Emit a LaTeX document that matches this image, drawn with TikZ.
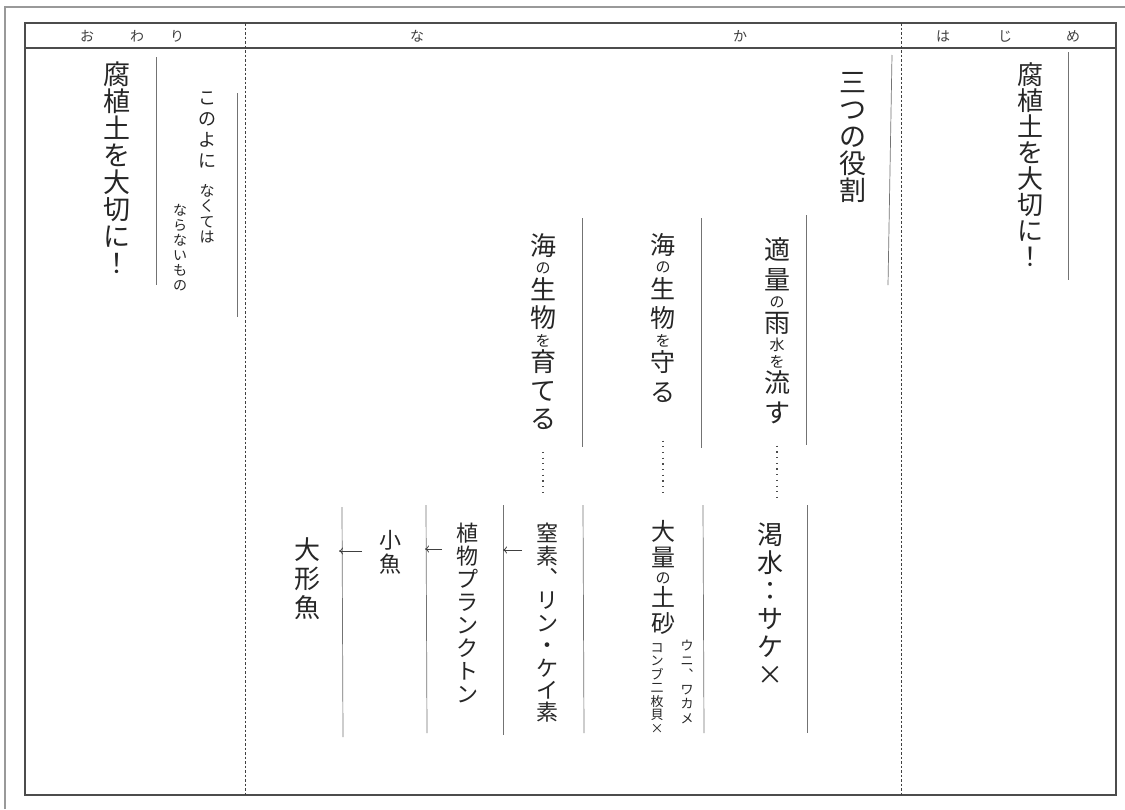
\documentclass[tikz,border=0pt]{standalone}
\usepackage{fontspec}
\setmainfont{Noto Sans CJK JP}
\newfontfamily\tateFont[RawFeature=+vert]{Noto Sans CJK JP}
\usetikzlibrary{arrows.meta}
\newcommand{\smallKana}[1]{{\fontsize{15}{15}\selectfont #1}}

\begin{document}
\begin{tikzpicture}[x=1pt,y=-1pt,%%
  outerStyle/.style={-,draw=black!40,line width=1.5pt},%%
  frameStyle/.style={-,draw=black!70,line width=1.2pt},%%
  dividerStyle/.style={-,draw=black!75,line width=0.9pt,dash pattern=on 2.5pt off 2pt},%%
  ruleStyle/.style={-,draw=black!55,line width=0.7pt},%%
  dotStyle/.style={-,draw=black!70,line width=1.3pt,dash pattern=on 1.2pt off 4.5pt},%%
  arrowStyle/.style={-{To[length=4pt,width=7pt]},draw=black!75,line width=0.8pt},%%
  headStyle/.style={font=\fontsize{14}{14}\selectfont,text=black!75,inner sep=0pt},%%
  tateStyle/.style={align=center,anchor=north,inner sep=0pt,text=black!85}
]
%%
%% Page size and margins.
%%
\useasboundingbox (0,0) rectangle (1125,809);
\fill[white] (0,0) rectangle (1125,809);
%%
%% The sheet and its three sections.
%%
\draw[outerStyle] (5,809) -- (5,7) -- (1125,7);
\draw[frameStyle] (25,23) rectangle (1116,795);
\draw[frameStyle] (25,48) -- (1116,48);
\draw[dividerStyle] (245,23) -- (245,795);
\draw[dividerStyle] (901,23) -- (901,795);
%% Section titles.
\node[headStyle] (hO)  at (87,36)   {お};
\node[headStyle] (hWa) at (137,36)  {わ};
\node[headStyle] (hRi) at (177,36)  {り};
\node[headStyle] (hNa) at (417,36)  {な};
\node[headStyle] (hKa) at (740,36)  {か};
\node[headStyle] (hHa) at (943,36)  {は};
\node[headStyle] (hJi) at (1005,36) {じ};
\node[headStyle] (hMe) at (1073,36) {め};
%%
%% The ruled lines beside each column.
%%
\foreach \xa/\ya/\xb/\yb in {156/57/156/285, 237/93/237/317, 1068/52/1068/280,
    892/55/888/285, 806/215/806/445, 701/218/701/448, 582/218/582/447,
    807/505/807/733, 703/505/704/733, 583/505/584/733,
    503/505/503/735, 426/505/427/733, 342/507/343/737}
  \draw[ruleStyle] (\xa,\ya) -- (\xb,\yb);
%%
%% The columns of text, written top to bottom.
%%
%% Owari.
\node[tateStyle,font=\fontsize{27}{27}\selectfont] (motoOwari) at (117,62)
  {腐\\植\\土\\を\\大\\切\\に\\！};
\node[tateStyle,font=\fontsize{18}{21}\selectfont] (konoyo) at (207,92)
  {こ\\の\\よ\\に};
\node[tateStyle,font=\fontsize{15}{15.5}\selectfont] (nakute) at (207,184)
  {な\\く\\て\\は};
\node[tateStyle,font=\fontsize{14}{15}\selectfont] (naranai) at (180,204)
  {な\\ら\\な\\い\\も\\の};
%% Hajime.
\node[tateStyle,font=\fontsize{26}{26}\selectfont] (motoHajime) at (1030,62)
  {腐\\植\\土\\を\\大\\切\\に\\！};
%% Naka: the three roles.
\node[tateStyle,font=\fontsize{27}{27}\selectfont] (yakuwari) at (853,72)
  {三\\つ\\の\\役\\割};
\node[tateStyle,font=\fontsize{26}{30}\selectfont] (ryusui) at (777,237)
  {適\\量\\[-12pt]\smallKana{の}\\[-5pt]雨\\[-12pt]\smallKana{水}\\[-13pt]\smallKana{を}\\[-5pt]流\\す};
\node[tateStyle,font=\fontsize{25}{29.5}\selectfont] (mamoru) at (663,233)
  {海\\[-11pt]\smallKana{の}\\[-4pt]生\\物\\[-11pt]\smallKana{を}\\[-4pt]守\\る};
\node[tateStyle,font=\fontsize{26}{28.5}\selectfont] (sodateru) at (543,233)
  {海\\[-10pt]\smallKana{の}\\[-3pt]生\\物\\[-10pt]\smallKana{を}\\[-3pt]育\\て\\る};
%% Naka: what each role leads to.
\node[tateStyle,font=\fontsize{26}{28}\selectfont] (kassui) at (770,523)
  {渇\\水\\：\\サ\\ケ\\×};
\node[tateStyle,font=\fontsize{24}{26}\selectfont] (dosha) at (663,520)
  {大\\量\\[-9pt]\smallKana{の}\\[-3pt]土\\砂};
\node[tateStyle,font=\fontsize{13}{14.5}\selectfont] (uni) at (687,640)
  {ウ\\ニ\\{\tateFont 、}\\ワ\\カ\\メ};
\node[tateStyle,font=\fontsize{13}{13.5}\selectfont] (konbu) at (657,643)
  {コ\\ン\\ブ\\二\\枚\\貝\\×};
\node[tateStyle,font=\fontsize{22}{22.4}\selectfont] (chisso) at (547,523)
  {窒\\素\\{\tateFont 、}\\リ\\ン\\・\\ケ\\イ\\素};
\node[tateStyle,font=\fontsize{22}{23}\selectfont] (plankton) at (467,523)
  {植\\物\\プ\\ラ\\ン\\ク\\ト\\ン};
\node[tateStyle,font=\fontsize{22}{24}\selectfont] (kozakana) at (390,530)
  {小\\魚};
\node[tateStyle,font=\fontsize{26}{29}\selectfont] (ogata) at (307,537)
  {大\\形\\魚};
%%
%% Dotted leaders from each role to its result.
%%
\draw[dotStyle,shorten <=22pt,shorten >=26pt] (ryusui.south) -- (ryusui.south |- kassui.north);
\draw[dotStyle,shorten <=38pt,shorten >=24pt] (mamoru.south) -- (mamoru.south |- dosha.north);
\draw[dotStyle,shorten <=22pt,shorten >=26pt] (sodateru.south) -- (sodateru.south |- chisso.north);
%%
%% The food chain, read right to left.
%%
\coordinate (tailA) at (522,550);
\coordinate (tipA)  at (503,550);
\coordinate (tailB) at (442,549);
\coordinate (tipB)  at (425,549);
\coordinate (tailC) at (362,551);
\coordinate (tipC)  at (339,551);
\draw[arrowStyle] (tailA) -- (tipA);
\draw[arrowStyle] (tailB) -- (tipB);
\draw[arrowStyle] (tailC) -- (tipC);
\end{tikzpicture}
\end{document}
